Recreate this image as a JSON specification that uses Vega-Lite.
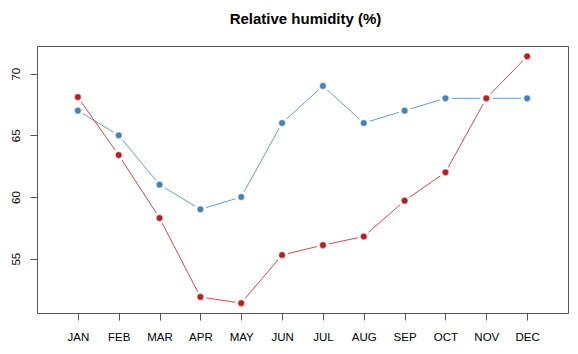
{
  "$schema": "https://vega.github.io/schema/vega-lite/v6.json",
  "width": 531,
  "height": 267,
  "autosize": {"type": "none"},
  "padding": {"left": 37, "top": 46, "right": 10, "bottom": 41},
  "background": "white",
  "title": {
    "text": "Relative humidity (%)",
    "font": "Liberation Sans",
    "fontSize": 15,
    "fontWeight": "bold",
    "color": "black",
    "anchor": "middle",
    "dx": 3,
    "offset": 19
  },
  "config": {
    "view": {"stroke": "#555555", "strokeWidth": 1},
    "axis": {
      "grid": false,
      "domain": false,
      "tickColor": "#555555",
      "tickSize": 7,
      "labelFont": "Liberation Sans",
      "labelFontSize": 11.5,
      "labelColor": "black",
      "title": null
    }
  },
  "data": {
    "values": [
      {"month": "JAN", "m": 1, "series": "S1", "value": 67.0},
      {"month": "FEB", "m": 2, "series": "S1", "value": 65.0},
      {"month": "MAR", "m": 3, "series": "S1", "value": 61.0},
      {"month": "APR", "m": 4, "series": "S1", "value": 59.0},
      {"month": "MAY", "m": 5, "series": "S1", "value": 60.0},
      {"month": "JUN", "m": 6, "series": "S1", "value": 66.0},
      {"month": "JUL", "m": 7, "series": "S1", "value": 69.0},
      {"month": "AUG", "m": 8, "series": "S1", "value": 66.0},
      {"month": "SEP", "m": 9, "series": "S1", "value": 67.0},
      {"month": "OCT", "m": 10, "series": "S1", "value": 68.0},
      {"month": "NOV", "m": 11, "series": "S1", "value": 68.0},
      {"month": "DEC", "m": 12, "series": "S1", "value": 68.0},
      {"month": "JAN", "m": 1, "series": "S2", "value": 68.1},
      {"month": "FEB", "m": 2, "series": "S2", "value": 63.4},
      {"month": "MAR", "m": 3, "series": "S2", "value": 58.3},
      {"month": "APR", "m": 4, "series": "S2", "value": 51.9},
      {"month": "MAY", "m": 5, "series": "S2", "value": 51.4},
      {"month": "JUN", "m": 6, "series": "S2", "value": 55.3},
      {"month": "JUL", "m": 7, "series": "S2", "value": 56.1},
      {"month": "AUG", "m": 8, "series": "S2", "value": 56.8},
      {"month": "SEP", "m": 9, "series": "S2", "value": 59.7},
      {"month": "OCT", "m": 10, "series": "S2", "value": 62.0},
      {"month": "NOV", "m": 11, "series": "S2", "value": 68.0},
      {"month": "DEC", "m": 12, "series": "S2", "value": 71.4}
    ]
  },
  "encoding": {
    "x": {
      "field": "m",
      "type": "quantitative",
      "scale": {"domain": [0, 13], "nice": false, "zero": false},
      "axis": {
        "values": [1, 2, 3, 4, 5, 6, 7, 8, 9, 10, 11, 12],
        "labelExpr": "['JAN','FEB','MAR','APR','MAY','JUN','JUL','AUG','SEP','OCT','NOV','DEC'][datum.value - 1]",
        "labelPadding": 11,
        "labelFlush": false,
        "labelOverlap": false
      }
    },
    "y": {
      "field": "value",
      "type": "quantitative",
      "scale": {"domain": [50.6, 72.24], "nice": false, "zero": false},
      "axis": {
        "values": [55, 60, 65, 70],
        "labelAngle": -90,
        "labelAlign": "center",
        "labelBaseline": "bottom",
        "labelPadding": 9
      }
    },
    "color": {
      "field": "series",
      "type": "nominal",
      "scale": {"domain": ["S1", "S2"], "range": ["#4682B4", "#B22222"]},
      "legend": null
    }
  },
  "layer": [
    {"mark": {"type": "line", "strokeWidth": 1, "opacity": 0.8}},
    {"mark": {"type": "point", "shape": "circle", "filled": true, "size": 150, "opacity": 1}, "encoding": {"color": {"value": "white"}}},
    {"mark": {"type": "point", "shape": "circle", "filled": true, "size": 45, "opacity": 1, "stroke": "white", "strokeWidth": 0.5}}
  ]
}
